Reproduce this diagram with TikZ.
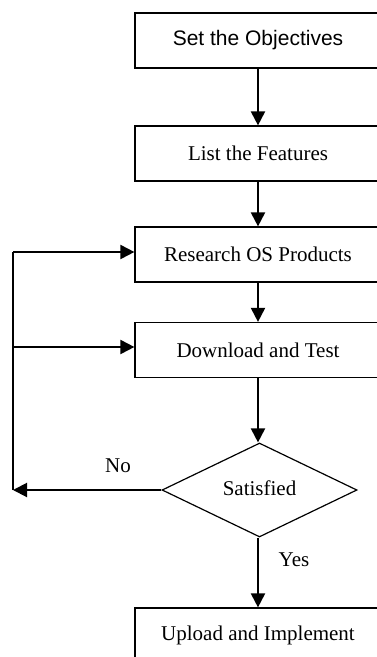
\documentclass[tikz,border=0pt]{standalone}
\usepackage{fontspec}
\setmainfont{Liberation Serif}
\newfontfamily\arialfont{Liberation Sans}
\usetikzlibrary{arrows.meta,shapes.geometric}
\begin{document}
\begin{tikzpicture}[x=1pt,y=-1pt,
  box/.style={draw,line width=1.2pt,rectangle,minimum width=246pt,minimum height=55pt,inner sep=0pt,font=\fontsize{21}{24}\selectfont},
  dia/.style={draw,line width=1.2pt,diamond,aspect=2.07,minimum width=195pt,minimum height=94pt,inner sep=0pt,font=\fontsize{21}{24}\selectfont},
  conn/.style={line width=2pt,-{Triangle[length=14pt,width=14pt]}},
  plain/.style={line width=2pt},
  lab/.style={font=\fontsize{21}{24}\selectfont,inner sep=0pt}]
\useasboundingbox (0,0) rectangle (377,657);
\clip (0,0) rectangle (377,657);
\node[box,font=\fontsize{21}{24}\arialfont] (b1) at (258,40.5) {Set the Objectives};
\node[box] (b2) at (258,153.5) {List the Features};
\node[box] (b3) at (258,254.5) {Research OS Products};
\node[box] (b4) at (258,350) {Download and Test};
\node[dia] (d) at (259.5,490) {\raisebox{3pt}{Satisfied}};
\node[box] (b5) at (258,635.5) {Upload and Implement};
\coordinate (c3) at (13,252);
\coordinate (c4) at (13,347);
\coordinate (cl) at (13,490);
\draw[conn] (b1.south -| 258,0) -- (b2.north -| 258,0);
\draw[conn] (b2.south -| 258,0) -- (b3.north -| 258,0);
\draw[conn] (b3.south -| 258,0) -- (b4.north -| 258,0);
\draw[conn] (b4.south -| 258,0) -- (d.north -| 258,0);
\draw[conn] (d.south -| 258,0) -- (b5.north -| 258,0);
\draw[conn] (d.west) -- (cl);
\draw[plain] (cl) -- (c3);
\draw[conn] (c3) -- (c3 -| b3.west);
\draw[conn] (c4) -- (c4 -| b4.west);
\node[lab] (no) at (118,466) {No};
\node[lab] (yes) at (294,560) {Yes};
\end{tikzpicture}
\end{document}
